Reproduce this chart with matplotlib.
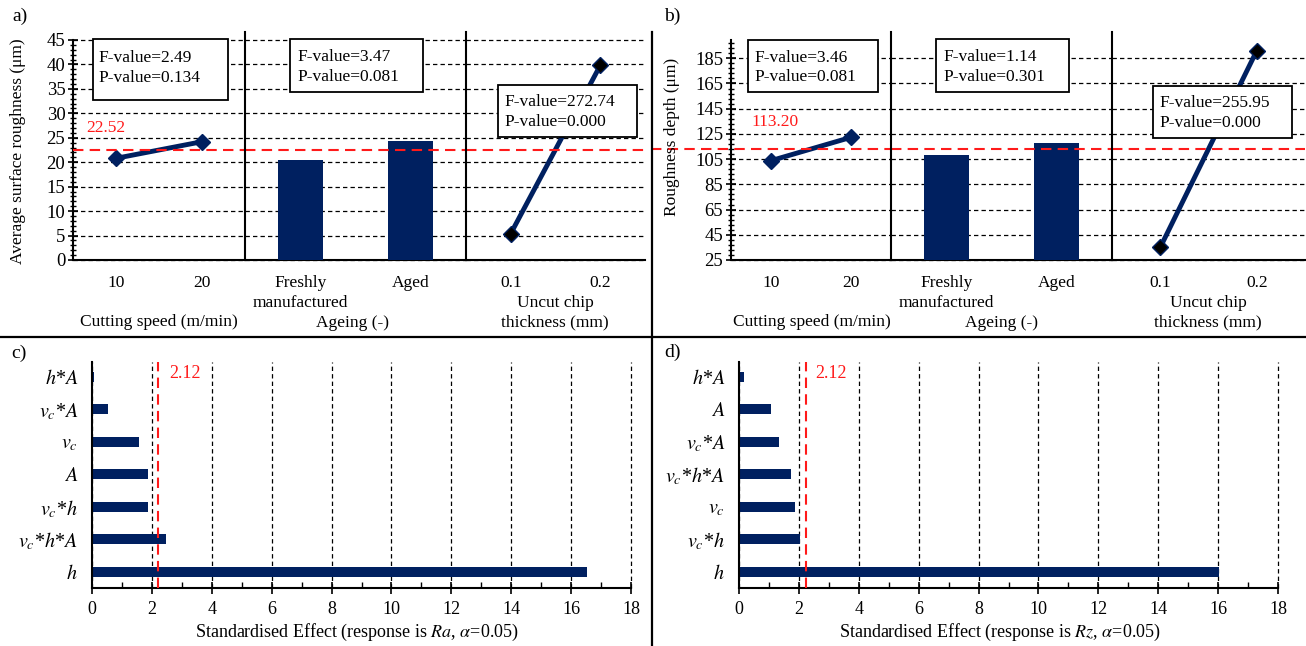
import matplotlib
matplotlib.use('Agg')
import matplotlib.pyplot as plt
from matplotlib.lines import Line2D
from matplotlib.patches import Rectangle
from matplotlib.ticker import MultipleLocator

plt.rcParams['font.family'] = ['Liberation Serif', 'DejaVu Serif']
plt.rcParams['mathtext.fontset'] = 'stix'

# ---------------- data ----------------
speed_levels = ['10', '20']
ageing_levels = ['Freshly\nmanufactured', 'Aged']
chip_levels = ['0.1', '0.2']

ra_speed = [20.8, 24.2]
ra_ageing = [20.5, 24.4]
ra_chip = [5.4, 39.8]
ra_mean = 22.52
ra_F = ['2.49', '3.47', '272.74']
ra_P = ['0.134', '0.081', '0.000']

rz_speed = [103.8, 122.3]
rz_ageing = [108.3, 118.0]
rz_chip = [35.0, 191.0]
rz_mean = 113.20
rz_F = ['3.46', '1.14', '255.95']
rz_P = ['0.081', '0.301', '0.000']

ra_terms = ['h', 'vc*h*A', 'vc*h', 'A', 'vc', 'vc*A', 'h*A']
ra_effects = [16.52, 2.46, 1.87, 1.86, 1.58, 0.53, 0.08]
rz_terms = ['h', 'vc*h', 'vc', 'vc*h*A', 'vc*A', 'A', 'h*A']
rz_effects = [16.02, 2.05, 1.86, 1.72, 1.34, 1.06, 0.17]
t_crit_label = '2.12'
t_crit_drawn = [2.19, 2.24]

term_tex = {
    'h': r'$h$',
    'A': r'$A$',
    'vc': r'$v_c$',
    'h*A': r'$h$*$A$',
    'vc*A': r'$v_c$*$A$',
    'vc*h': r'$v_c$*$h$',
    'vc*h*A': r'$v_c$*$h$*$A$',
}

# ---------------- layout helpers ----------------
W, H = 1306, 646
fig = plt.figure(figsize=(W / 100, H / 100), dpi=100)
NAVY = '#002060'
RED = '#ff1a1a'
GRID_LS = (0, (3.5, 2.5))
RED_LS = (0, (5, 3))
FS = 12.5


def add_ax(x0, y0, x1, y1):
    return fig.add_axes([x0 / W, 1 - y1 / H, (x1 - x0) / W, (y1 - y0) / H])


def fline(x0, y0, x1, y1, lw=1.5):
    fig.add_artist(Line2D([x0 / W, x1 / W], [1 - y0 / H, 1 - y1 / H],
                          transform=fig.transFigure, color='black', lw=lw))


def ftext(x, y, s, **kw):
    kw.setdefault('fontsize', FS)
    fig.text(x / W, 1 - y / H, s, **kw)


def fbox(x0, y0, x1, y1):
    fig.add_artist(Rectangle((x0 / W, 1 - y1 / H), (x1 - x0) / W, (y1 - y0) / H,
                             transform=fig.transFigure, facecolor='white',
                             edgecolor='black', lw=1.3, zorder=5))


# ---------------- top panels ----------------
top_specs = [
    dict(edges=[73, 245, 466, 645], ylim=(0, 45), major=5, minor=1,
         speed=ra_speed, ageing=ra_ageing, chip=ra_chip, mean=ra_mean,
         F=ra_F, P=ra_P, red_ext=0.0,
         boxes=[(93, 39, 228, 100, 98, 58, 78), (290, 39, 423, 92, 297, 57, 77),
                (498, 85, 637, 137, 504, 102, 122)],
         meantxt=(86, 128)),
    dict(edges=[731, 891, 1112, 1305], ylim=(25, 199.5), major=20, minor=4,
         speed=rz_speed, ageing=rz_ageing, chip=rz_chip, mean=rz_mean,
         F=rz_F, P=rz_P, red_ext=-0.5,
         boxes=[(748, 40, 878, 92, 754, 58, 77), (936, 39, 1069, 92, 943, 57, 77),
                (1153, 86, 1292, 138, 1159, 103, 123)],
         meantxt=(751, 122)),
]

for spec in top_specs:
    e = spec['edges']
    axs = [add_ax(e[i], 40, e[i + 1], 260) for i in range(3)]
    for i, ax in enumerate(axs):
        ax.set_ylim(*spec['ylim'])
        lo, hi = spec['ylim']
        ax.yaxis.set_major_locator(MultipleLocator(spec['major'], offset=lo % spec['major']))
        ax.yaxis.set_minor_locator(MultipleLocator(spec['minor'], offset=lo % spec['minor']))
        ax.set_xlim(-0.5, 1.5)
        ax.set_xticks([0, 1])
        ax.tick_params(axis='x', length=0, pad=11, labelsize=FS)
        ax.grid(axis='y', which='major', color='black', lw=0.9, ls=GRID_LS)
        for gl in ax.get_ygridlines():
            gl.set_clip_on(False)
        ax.set_axisbelow(True)
        for s in ('top', 'right'):
            ax.spines[s].set_visible(False)
        ax.spines['bottom'].set_linewidth(1.5)
        ax.patch.set_alpha(0)
        if i == 0:
            ax.spines['left'].set_linewidth(1.5)
            ax.tick_params(axis='y', which='major', direction='inout', length=7,
                           width=1.2, labelsize=13.5, pad=2)
            ax.tick_params(axis='y', which='minor', direction='inout', length=4, width=1)
        else:
            ax.spines['left'].set_visible(False)
            ax.tick_params(axis='y', which='both', length=0, labelleft=False)
        xmin = spec['red_ext'] if i == 0 else 0
        ax.axhline(spec['mean'], xmin=xmin, xmax=1, color=RED, lw=1.5, ls=RED_LS,
                   zorder=4, clip_on=False)

    axs[0].plot([0, 1], spec['speed'], color=NAVY, lw=3.5, marker='D', ms=8.5,
                mfc=NAVY, mec=NAVY, zorder=3)
    axs[0].set_xticklabels(speed_levels)
    axs[1].bar([0, 1], spec['ageing'], width=0.41, color=NAVY, zorder=3)
    axs[1].set_xticklabels(ageing_levels, linespacing=1.3)
    axs[2].plot([0, 1], spec['chip'], color=NAVY, lw=3.5, marker='D', ms=8.5,
                mfc='black', mec=NAVY, zorder=3)
    axs[2].set_xticklabels(chip_levels)

    # separators between sub-panels
    fline(e[1], 32, e[1], 260)
    fline(e[2], 32, e[2], 260)

    # F/P boxes
    for (bx0, by0, bx1, by1, tx, ty1, ty2), F, P in zip(spec['boxes'], spec['F'], spec['P']):
        fbox(bx0, by0, bx1, by1)
        ftext(tx, ty1, f'F-value={F}', va='center', ha='left', zorder=6)
        ftext(tx, ty2, f'P-value={P}', va='center', ha='left', zorder=6)

    ftext(spec['meantxt'][0], spec['meantxt'][1], f"{spec['mean']:.2f}", color=RED,
          va='center', ha='left')

# axis titles of top panels
ftext(159, 322, 'Cutting speed (m/min)', ha='center', va='center')
ftext(353, 323, 'Ageing (-)', ha='center', va='center')
ftext(555, 313, 'Uncut chip\nthickness (mm)', ha='center', va='center', linespacing=1.3)
ftext(812, 322, 'Cutting speed (m/min)', ha='center', va='center')
ftext(1002, 323, 'Ageing (-)', ha='center', va='center')
ftext(1208, 313, 'Uncut chip\nthickness (mm)', ha='center', va='center', linespacing=1.3)
ftext(18, 151, 'Average surface roughness (μm)', rotation=90, ha='center', va='center')
ftext(672, 137, 'Roughness depth (μm)', rotation=90, ha='center', va='center')

# ---------------- bottom panels ----------------
bot_specs = [
    dict(x=(92, 631), terms=ra_terms, eff=ra_effects, crit=t_crit_drawn[0],
         resp='Ra', crit_txt=(169, 373), xl=357),
    dict(x=(739, 1278), terms=rz_terms, eff=rz_effects, crit=t_crit_drawn[1],
         resp='Rz', crit_txt=(815, 374), xl=1000),
]
for spec in bot_specs:
    ax = add_ax(spec['x'][0], 362, spec['x'][1], 588)
    pos = list(range(len(spec['terms'])))
    ax.barh(pos, spec['eff'], height=0.31, color=NAVY, zorder=2)
    ax.set_xlim(0, 18)
    ax.set_ylim(-0.5, 6.45)
    ax.set_xticks(range(0, 19, 2))
    ax.xaxis.set_minor_locator(MultipleLocator(1))
    ax.set_yticks(pos)
    ax.set_yticklabels([term_tex[t] for t in spec['terms']], fontsize=14.5)
    ax.tick_params(axis='y', length=0, pad=10)
    ax.tick_params(axis='x', which='major', direction='inout', length=8, width=1.2,
                   labelsize=13, pad=5)
    ax.tick_params(axis='x', which='minor', direction='in', length=4, width=1)
    ax.grid(axis='x', which='major', color='black', lw=0.9, ls=GRID_LS)
    for gl in ax.get_xgridlines():
        gl.set_clip_on(False)
    ax.set_axisbelow(True)
    for s in ('top', 'right'):
        ax.spines[s].set_visible(False)
    ax.spines['left'].set_linewidth(1.5)
    ax.spines['bottom'].set_linewidth(1.5)
    ax.patch.set_alpha(0)
    ax.axvline(spec['crit'], color=RED, lw=1.5, ls=RED_LS, zorder=4)
    ftext(spec['crit_txt'][0], spec['crit_txt'][1], t_crit_label, color=RED,
          ha='left', va='center', fontsize=13)
    ftext(spec['xl'], 632, 'Standardised Effect (response is $' + spec['resp'] +
          r'$, $\alpha$=0.05)', ha='center', va='center', fontsize=13)

# ---------------- panel labels and frame lines ----------------
ftext(12, 16, 'a)', fontsize=14, va='center')
ftext(664, 16, 'b)', fontsize=14, va='center')
ftext(11, 353, 'c)', fontsize=14, va='center')
ftext(664, 352, 'd)', fontsize=14, va='center')
fline(0, 337, W, 337, lw=1.6)
fline(652, 32, 652, H, lw=1.6)

fig.savefig('out.png', dpi=100)
